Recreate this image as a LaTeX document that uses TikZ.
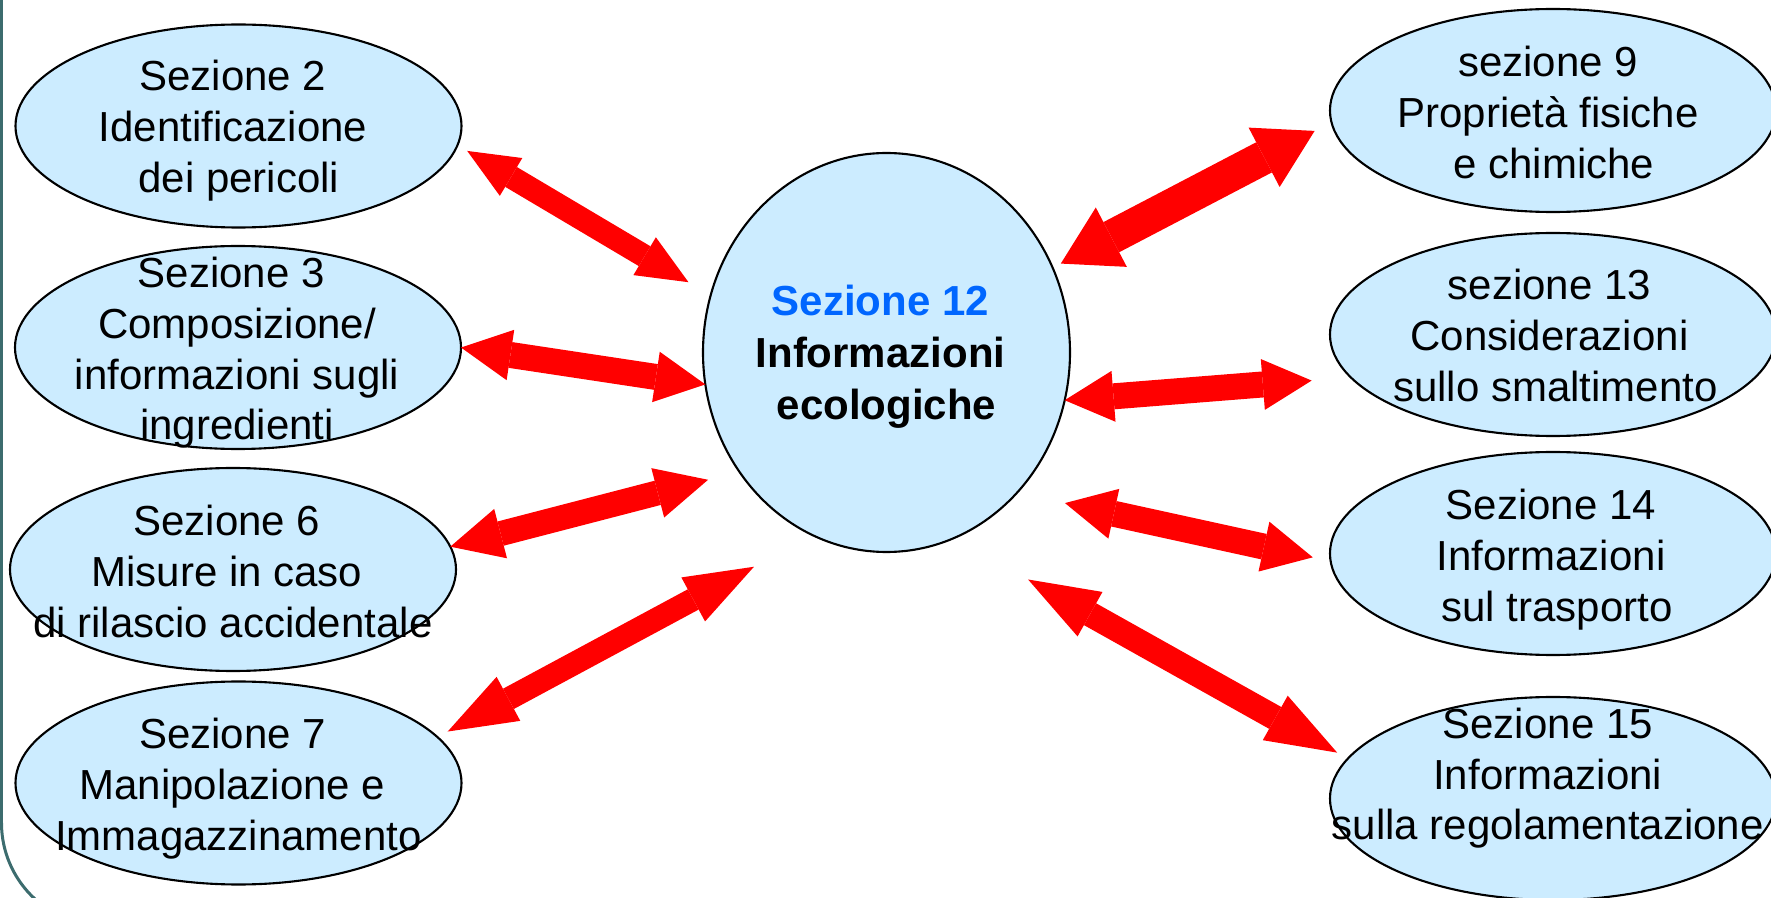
\documentclass[tikz,border=0pt]{standalone}
\usepackage{fontspec}
\setmainfont{Liberation Sans}
\usetikzlibrary{arrows.meta, shapes.geometric}
\definecolor{bubblefill}{RGB}{204,236,255}
\definecolor{framegreen}{RGB}{60,108,110}
\definecolor{titleblue}{RGB}{0,102,255}
\newcommand{\tsp}{\hbox to .28em{}}

\begin{document}
\begin{tikzpicture}[
  every node/.style={font={\fontsize{11.95}{14.5}\selectfont}},
  bubble/.style={ellipse, draw=black, line width=.6pt, fill=bubblefill,
    inner sep=0pt, outer sep=0pt, minimum width=4.46cm, minimum height=2.03cm},
  txt/.style={align=center, anchor=base, inner sep=0pt},
  biarrow/.style n args={3}{draw=red, line width=#1,
    arrows={Triangle[length=#3, width=#2, line width=0pt]-Triangle[length=#3, width=#2, line width=0pt]}}
]
  \useasboundingbox (0,0) rectangle (17.71,8.97);

  % Slide frame on the left edge.
  \draw[framegreen, line width=.03cm]
    (.015,8.97) -- (.015,.74) arc[start angle=180, end angle=250, radius=1.03];

  % The section bubbles.
  \foreach \n/\x/\y in {e2/2.385/7.71, e3/2.38/5.495, e6/2.33/3.275, e7/2.385/1.14,
                        e9/15.53/7.865, e13/15.53/5.625, e14/15.53/3.435, e15/15.53/.985}{
    \node[bubble] (\n) at (\x,\y) {};
  }
  \node[bubble, minimum width=3.67cm, minimum height=3.99cm] (c) at (8.865,5.445) {};

  % Texts (placed by the baseline of their last line).
  \node[txt] (e2t) at (2.33,7.043) {Sezione 2\\Identificazione\\\tsp dei pericoli};
  \node[txt] (e3t) at (2.37,4.57) {Sezione 3\tsp\\Composizione/\\informazioni sugli\\ingredienti};
  \node[txt] (e6t) at (2.27,2.597) {Sezione 6\\Misure in caso\\\tsp di rilascio accidentale};
  \node[txt] (e7t) at (2.325,.47) {Sezione 7\\Manipolazione e\\\tsp Immagazzinamento};
  \node[txt] (e9t) at (15.48,7.187) {sezione 9\\Proprietà fisiche\\\tsp e chimiche};
  \node[txt] (e13t) at (15.495,4.953) {sezione 13\\Considerazioni\\\tsp sullo smaltimento};
  \node[txt] (e14t) at (15.51,2.76) {Sezione 14\\Informazioni\\\tsp sul trasporto};
  \node[txt] (e15t) at (15.477,.57) {Sezione 15\\Informazioni\\sulla regolamentazione};
  \node[txt, font={\fontsize{11.95}{14.8}\selectfont\bfseries}] (ct) at (8.805,4.77)
    {\textcolor{titleblue}{Sezione 12}\\Informazioni\\\tsp ecologiche};

  % Double arrows to the centre.
  \draw[biarrow={.23cm}{.44cm}{.51cm}, shorten <=.113cm, shorten >=.258cm] (e2.-5.63) -- (c.162.56);
  \draw[biarrow={.26cm}{.51cm}{.50cm}] (e3.0.32) -- (c.-170.11);
  \draw[biarrow={.25cm}{.51cm}{.52cm}, shorten >=.323cm] (e6.6.94) -- (c.-141.71);
  \draw[biarrow={.23cm}{.50cm}{.69cm}, shorten <=.117cm, shorten >=.667cm] (e7.13.48) -- (c.-112.73);
  \draw[biarrow={.34cm}{.67cm}{.57cm}, shorten <=.092cm, shorten >=.19cm] (c.27.63) -- (e9.-177.67);
  \draw[biarrow={.26cm}{.51cm}{.49cm}, shorten >=.394cm] (c.-15.09) -- (e13.-168.83);
  \draw[biarrow={.26cm}{.51cm}{.50cm}, shorten <=.49cm, shorten >=.183cm] (c.-47.08) -- (e14.-178.92);
  \draw[biarrow={.25cm}{.51cm}{.71cm}, shorten <=.849cm, shorten >=.123cm] (c.-70.77) -- (e15.169.7);
\end{tikzpicture}
\end{document}
